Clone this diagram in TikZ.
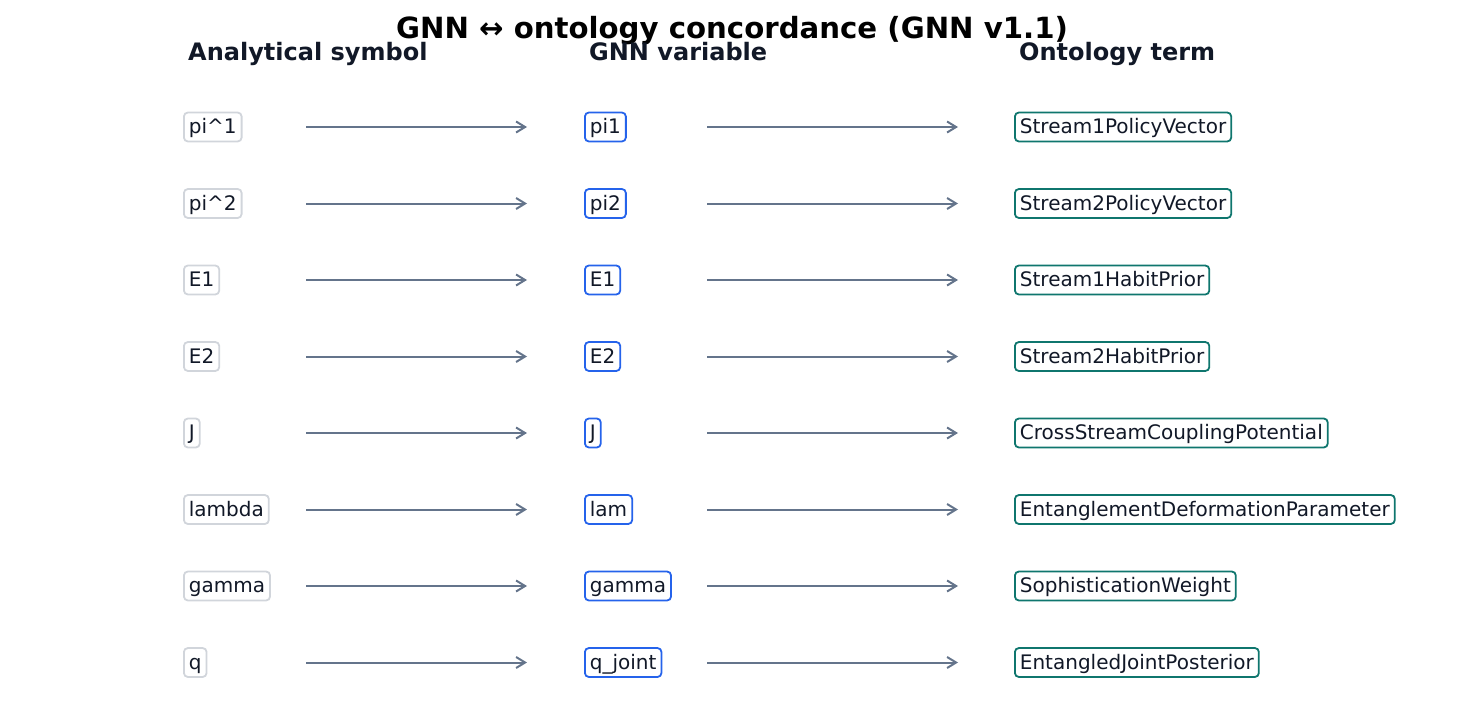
\documentclass[tikz,border=0pt]{standalone}
\usepackage{fontspec}
\setmainfont{DejaVu Sans}
\usetikzlibrary{arrows.meta}
\definecolor{textc}{HTML}{111827}
\definecolor{headc}{HTML}{111827}
\definecolor{grayb}{HTML}{D1D5DB}
\definecolor{blueb}{HTML}{2563EB}
\definecolor{tealb}{HTML}{0F766E}
\definecolor{arrc}{HTML}{64748B}
\tikzset{
  lbl/.style={draw, rounded corners=4pt, line width=1.8pt, fill=white, anchor=west,
    inner xsep=5pt, inner ysep=4pt, text height=17pt, text depth=4pt,
    font=\fontsize{20}{24}\selectfont, text=textc},
  symb/.style={lbl, draw=grayb},
  gnnb/.style={lbl, draw=blueb},
  ontb/.style={lbl, draw=tealb},
  conn/.style={draw=arrc, line width=2pt, -{Straight Barb[length=9pt,width=11pt]}},
  head/.style={anchor=base west, font=\bfseries\fontsize{24}{28}\selectfont, text=headc, inner sep=0pt},
  ttl/.style={anchor=base, font=\bfseries\fontsize{29.2}{34}\selectfont, text=black, inner sep=0pt}
}
\begin{document}
\begin{tikzpicture}[x=1pt,y=-1pt]
\useasboundingbox (0,0) rectangle (1465,717);
\node[ttl] (title) at (732,39) {GNN ↔ ontology concordance (GNN v1.1)};
\node[head] (h1) at (188,60) {Analytical symbol};
\node[head] (h2) at (589,60) {GNN variable};
\node[head] (h3) at (1019,60) {Ontology term};
\foreach \i/\a/\g/\o [count=\k from 0] in {
  1/pi\^{}1/pi1/Stream1PolicyVector,
  2/pi\^{}2/pi2/Stream2PolicyVector,
  3/E1/E1/Stream1HabitPrior,
  4/E2/E2/Stream2HabitPrior,
  5/J/J/CrossStreamCouplingPotential,
  6/lambda/lam/EntanglementDeformationParameter,
  7/gamma/gamma/SophisticationWeight,
  8/q/q\_joint/EntangledJointPosterior}{
  \pgfmathsetmacro{\yy}{127+76.5*\k}
  \node[symb] (a\i) at (183,\yy) {\a};
  \node[gnnb] (g\i) at (584,\yy) {\g};
  \node[ontb] (o\i) at (1014,\yy) {\o};
  \coordinate (s\i) at (306,\yy);
  \coordinate (t\i) at (527,\yy);
  \coordinate (u\i) at (707,\yy);
  \coordinate (v\i) at (958,\yy);
  \draw[conn] (s\i) -- (t\i);
  \draw[conn] (u\i) -- (v\i);
}
\end{tikzpicture}
\end{document}
